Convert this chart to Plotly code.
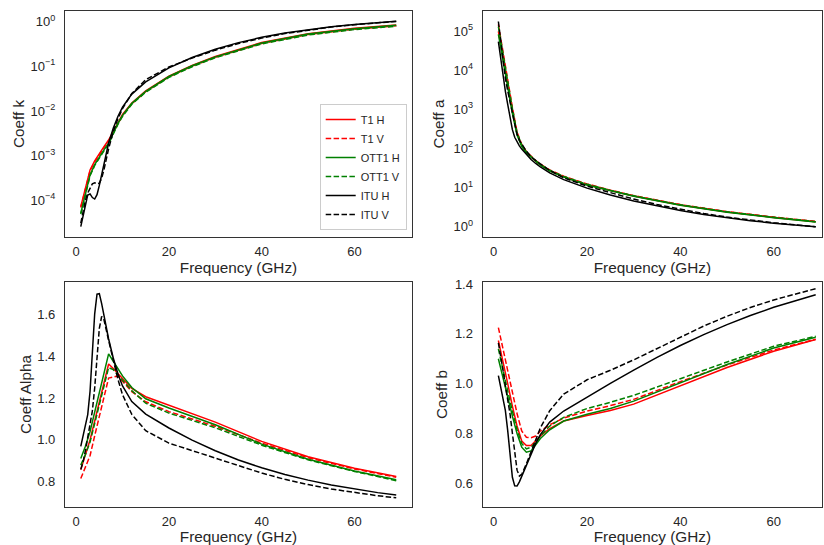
import plotly.graph_objects as go

# ---------------- data ----------------
# ITU reference coefficients
freq_itu = [1, 1.5, 2, 2.5, 3, 3.5, 4, 4.5, 5, 5.5, 6, 7, 8, 9, 10, 12, 15, 20, 25,
            30, 35, 40, 45, 50, 55, 60, 65, 69]
itu_k_h = [2.59e-5, 4.43e-5, 8.47e-5, 1.321e-4, 1.390e-4, 1.155e-4, 1.071e-4, 1.340e-4,
           2.162e-4, 3.909e-4, 7.056e-4, 1.915e-3, 4.115e-3, 7.535e-3, 1.217e-2, 2.386e-2,
           4.481e-2, 9.164e-2, 0.1571, 0.2403, 0.3374, 0.4431, 0.5521, 0.6600, 0.7640,
           0.8606, 0.9473, 1.0147]
itu_k_v = [3.08e-5, 5.74e-5, 9.98e-5, 1.464e-4, 1.942e-4, 2.346e-4, 2.461e-4, 2.347e-4,
           2.428e-4, 3.115e-4, 4.878e-4, 1.425e-3, 3.450e-3, 6.691e-3, 1.129e-2, 2.455e-2,
           5.008e-2, 9.611e-2, 0.1533, 0.2291, 0.3224, 0.4274, 0.5375, 0.6472, 0.7527,
           0.8515, 0.9431, 1.0088]
itu_alpha_h = [0.9691, 1.0185, 1.0664, 1.1209, 1.2322, 1.4189, 1.6009, 1.6948, 1.6969,
               1.6499, 1.5900, 1.4810, 1.3905, 1.3155, 1.2571, 1.1825, 1.1233, 1.0568,
               0.9991, 0.9485, 0.9047, 0.8673, 0.8355, 0.8084, 0.7853, 0.7656, 0.7489, 0.7374]
itu_alpha_v = [0.8592, 0.8957, 0.9490, 1.0085, 1.0688, 1.1387, 1.2476, 1.3987, 1.5317,
               1.5882, 1.5728, 1.4745, 1.3797, 1.2895, 1.2156, 1.1216, 1.0440, 0.9847,
               0.9491, 0.9129, 0.8761, 0.8421, 0.8123, 0.7871, 0.7660, 0.7486, 0.7342, 0.7240]
itu_a_h = [5.41e4, 1.88e4, 6580, 2890, 1350, 596, 302, 193, 144.5, 116.3, 95.9, 68.4,
           51.9, 41.1, 33.4, 23.5, 15.87, 9.60, 6.376, 4.497, 3.323, 2.556, 2.036, 1.672,
           1.409, 1.217, 1.075, 0.980]
itu_a_v = [1.78e5, 5.43e4, 1.64e4, 6340, 2970, 1540, 781, 394, 229, 161, 127.6, 85.2,
           60.9, 48.6, 40.0, 27.3, 17.6, 10.79, 7.215, 5.024, 3.640, 2.744, 2.147, 1.739,
           1.449, 1.240, 1.083, 0.988]
itu_b_h = [1.0319, 0.9818, 0.9377, 0.8921, 0.8116, 0.7048, 0.6246, 0.5900, 0.5893, 0.6061,
           0.6289, 0.6752, 0.7192, 0.7602, 0.7955, 0.8457, 0.8902, 0.9463, 1.0009, 1.0543,
           1.1054, 1.1530, 1.1969, 1.2370, 1.2734, 1.3062, 1.3353, 1.3569]
itu_b_v = [1.1639, 1.1165, 1.0537, 0.9916, 0.9356, 0.8782, 0.8015, 0.7150, 0.6529, 0.6296,
           0.6358, 0.6782, 0.7248, 0.7755, 0.8226, 0.8916, 0.9579, 1.0155, 1.0536, 1.0954,
           1.1414, 1.1875, 1.2311, 1.2705, 1.3055, 1.3358, 1.3620, 1.3812]

# fitted models T1 / OTT1
freq_fit = [1, 2, 3, 4, 5, 6, 7, 8, 9, 10, 12, 15, 20, 25, 30, 40, 50, 60, 69]
t1_k_h = [7.24e-5, 1.905e-4, 4.79e-4, 7.59e-4, 1.122e-3, 1.585e-3, 2.239e-3, 3.467e-3,
          5.50e-3, 8.32e-3, 0.01514, 0.02818, 0.06026, 0.1047, 0.166, 0.339, 0.537, 0.708, 0.841]
t1_k_v = [6.9e-5, 1.82e-4, 4.57e-4, 7.24e-4, 1.07e-3, 1.51e-3, 2.14e-3, 3.31e-3,
          5.25e-3, 7.94e-3, 0.01445, 0.0269, 0.0575, 0.100, 0.1585, 0.3236, 0.5129, 0.676, 0.803]
ott1_k_h = [5.13e-5, 1.413e-4, 3.715e-4, 6.31e-4, 9.55e-4, 1.349e-3, 1.905e-3, 3.162e-3,
            5.25e-3, 7.94e-3, 0.01479, 0.02754, 0.05888, 0.1023, 0.1622, 0.3311, 0.5248,
            0.6918, 0.8222]
ott1_k_v = [4.9e-5, 1.35e-4, 3.55e-4, 6.03e-4, 9.12e-4, 1.288e-3, 1.82e-3, 3.02e-3,
            5.01e-3, 7.58e-3, 0.01413, 0.0263, 0.0562, 0.0977, 0.1549, 0.3162, 0.5012,
            0.6607, 0.7852]

t1_a_h = [1.0e5, 1.995e4, 3548, 891, 240, 117.5, 79.4, 60.3, 46.8, 38.0, 26.9, 18.6,
          11.75, 8.32, 6.03, 3.55, 2.34, 1.70, 1.32]
t1_a_v = [1.514e5, 2.818e4, 5623, 1122, 263, 125.9, 83.2, 63.1, 49.0, 39.8, 28.2, 19.5,
          12.3, 8.51, 6.17, 3.63, 2.40, 1.74, 1.35]
ott1_a_h = [8.32e4, 1.66e4, 3162, 794, 219, 112, 75.9, 58.9, 45.7, 37.2, 26.3, 18.4,
            11.6, 8.22, 5.96, 3.51, 2.32, 1.68, 1.30]
ott1_a_v = [1.318e5, 2.512e4, 5012, 1047, 251, 123, 81.3, 61.7, 47.9, 38.9, 27.5, 19.05,
            12.02, 8.41, 6.10, 3.59, 2.37, 1.72, 1.33]

t1_alpha_h = [0.859, 0.93, 1.0, 1.09, 1.18, 1.27, 1.362, 1.34, 1.315, 1.29, 1.245, 1.206,
              1.165, 1.127, 1.085, 0.993, 0.92, 0.865, 0.826]
t1_alpha_v = [0.816, 0.87, 0.925, 1.02, 1.11, 1.20, 1.295, 1.30, 1.305, 1.28, 1.23, 1.182,
              1.135, 1.10, 1.065, 0.985, 0.915, 0.862, 0.822]
ott1_alpha_h = [0.912, 0.97, 1.04, 1.13, 1.22, 1.32, 1.41, 1.375, 1.34, 1.305, 1.25, 1.196,
                1.152, 1.113, 1.072, 0.98, 0.908, 0.852, 0.81]
ott1_alpha_v = [0.88, 0.93, 0.99, 1.08, 1.17, 1.26, 1.345, 1.335, 1.31, 1.285, 1.235, 1.175,
                1.128, 1.093, 1.058, 0.975, 0.905, 0.85, 0.806]

t1_b_h = [1.173, 1.09, 1.0, 0.91, 0.83, 0.77, 0.752, 0.752, 0.77, 0.79, 0.82, 0.85,
          0.872, 0.892, 0.918, 0.99, 1.065, 1.13, 1.177]
t1_b_v = [1.225, 1.14, 1.05, 0.965, 0.88, 0.81, 0.785, 0.783, 0.79, 0.81, 0.835, 0.862,
          0.89, 0.912, 0.937, 1.008, 1.075, 1.135, 1.178]
ott1_b_h = [1.10, 1.02, 0.95, 0.87, 0.80, 0.745, 0.725, 0.73, 0.755, 0.78, 0.815, 0.85,
            0.877, 0.90, 0.93, 1.005, 1.077, 1.143, 1.186]
ott1_b_v = [1.14, 1.05, 0.97, 0.89, 0.815, 0.76, 0.738, 0.745, 0.765, 0.79, 0.83, 0.865,
            0.90, 0.925, 0.953, 1.02, 1.087, 1.15, 1.19]

series_names = ["T1 H", "T1 V", "OTT1 H", "OTT1 V", "ITU H", "ITU V"]

# ---------------- styling ----------------
W, H = 824, 545
FONT = "Liberation Sans, Arial, sans-serif"
TXT = "#262626"
DASH = "5.5px,2.4px"
TITLE_FONT = dict(family=FONT, size=15.3, color=TXT)
styles = {
    "T1 H": ("#ff0000", "solid"), "T1 V": ("#ff0000", DASH),
    "OTT1 H": ("#008000", "solid"), "OTT1 V": ("#008000", DASH),
    "ITU H": ("#000000", "solid"), "ITU V": ("#000000", DASH),
}

panels = {
    "k": (["x", "y"], [t1_k_h, t1_k_v, ott1_k_h, ott1_k_v, itu_k_h, itu_k_v]),
    "a": (["x2", "y2"], [t1_a_h, t1_a_v, ott1_a_h, ott1_a_v, itu_a_h, itu_a_v]),
    "alpha": (["x3", "y3"], [t1_alpha_h, t1_alpha_v, ott1_alpha_h, ott1_alpha_v, itu_alpha_h, itu_alpha_v]),
    "b": (["x4", "y4"], [t1_b_h, t1_b_v, ott1_b_h, ott1_b_v, itu_b_h, itu_b_v]),
}

fig = go.Figure()
for pi, (key, ((xa, ya), ys)) in enumerate(panels.items()):
    for name, yv in zip(series_names, ys):
        xs = freq_itu if name.startswith("ITU") else freq_fit
        col, dash = styles[name]
        fig.add_trace(go.Scatter(
            x=xs, y=yv, mode="lines", name=name, xaxis=xa, yaxis=ya,
            line=dict(color=col, width=1.5, dash=dash),
            showlegend=(pi == 0), legendgroup=name,
        ))


def dx(a, b):
    return [a / W, b / W]


def dy(top, bottom):
    return [1 - bottom / H, 1 - top / H]


def sup(n):
    return "10<sup>%s</sup>" % (str(n).replace("-", "\u2212"))


axis_common = dict(
    showline=True, mirror=True, linecolor="#333333", linewidth=1.25,
    showgrid=False, zeroline=False, ticks="",
    tickfont=dict(family=FONT, size=13, color=TXT),
)
xcommon = dict(axis_common, tickvals=[0, 20, 40, 60], ticklabelstandoff=2,
               title=dict(text="Frequency (GHz)", font=TITLE_FONT, standoff=0))

k_ticks = [1e-4, 1e-3, 1e-2, 1e-1, 1]
a_ticks = [1, 10, 100, 1e3, 1e4, 1e5]

fig.update_layout(
    width=W, height=H, margin=dict(l=0, r=0, t=0, b=0, autoexpand=False),
    paper_bgcolor="white", plot_bgcolor="white",
    font=dict(family=FONT, color=TXT),
    xaxis=dict(xcommon, domain=dx(65, 412), anchor="y", range=[-2.4, 72.4]),
    xaxis2=dict(xcommon, domain=dx(482.7, 822), anchor="y2", range=[-2.36, 70.35]),
    xaxis3=dict(xcommon, domain=dx(65, 412), anchor="y3", range=[-2.4, 72.4]),
    xaxis4=dict(xcommon, domain=dx(482.7, 822), anchor="y4", range=[-2.36, 70.35]),
    yaxis=dict(axis_common, domain=dy(11, 237), anchor="x", type="log", range=[-4.82, 0.236],
               tickvals=k_ticks, ticktext=[sup(n) for n in [-4, -3, -2, -1, 0]],
               ticklabelstandoff=6,
               title=dict(text="Coeff k", font=TITLE_FONT, standoff=2)),
    yaxis2=dict(axis_common, domain=dy(11, 237), anchor="x2", type="log", range=[-0.27, 5.52],
                tickvals=a_ticks, ticktext=[sup(n) for n in [0, 1, 2, 3, 4, 5]],
                ticklabelstandoff=6,
                title=dict(text="Coeff a", font=TITLE_FONT, standoff=5)),
    yaxis3=dict(axis_common, domain=dy(281.7, 507.3), anchor="x3", range=[0.679, 1.754],
                tickvals=[0.8, 1.0, 1.2, 1.4, 1.6], ticktext=["0.8", "1.0", "1.2", "1.4", "1.6"],
                ticklabelstandoff=6,
                title=dict(text="Coeff Alpha", font=TITLE_FONT, standoff=1)),
    yaxis4=dict(axis_common, domain=dy(281.7, 507.3), anchor="x4", range=[0.504, 1.409],
                tickvals=[0.6, 0.8, 1.0, 1.2, 1.4], ticktext=["0.6", "0.8", "1.0", "1.2", "1.4"],
                ticklabelstandoff=6,
                title=dict(text="Coeff b", font=TITLE_FONT, standoff=3)),
    legend=dict(x=406.7 / W, xanchor="right", y=1 - 230 / H, yanchor="bottom",
                bgcolor="white", bordercolor="#cccccc", borderwidth=1, itemwidth=30,
                font=dict(family=FONT, size=11, color=TXT), tracegroupgap=0),
)

fig.write_html("out.html", config={"displayModeBar": False},
               post_script="document.body.style.margin='0';document.body.style.overflow='hidden';")
